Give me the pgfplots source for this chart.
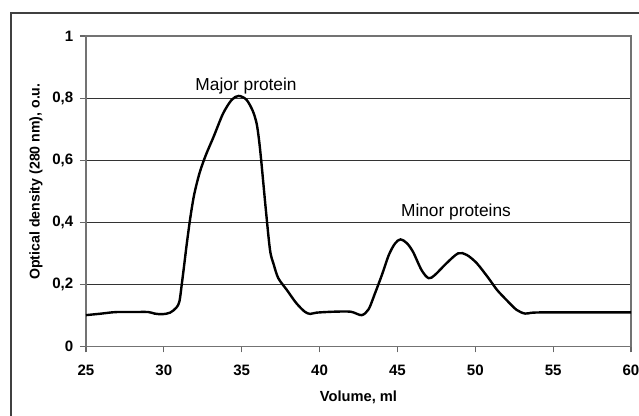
\documentclass[border=0pt]{standalone}
\usepackage{fontspec}
\setmainfont{Liberation Sans}
\usepackage{pgfplots}
\pgfplotsset{compat=1.18}
\begin{document}
\begin{tikzpicture}
\useasboundingbox (0,0) rectangle (479.25pt,312pt);
\draw[line width=1.1pt, black!75] (8.25pt,-2pt) -- (8.25pt,302.25pt) -- (482pt,302.25pt);
\begin{axis}[
    at={(64.5pt,52.125pt)}, anchor=south west,
    scale only axis,
    width=408.75pt, height=232.875pt,
    xmin=25, xmax=60, ymin=0, ymax=1,
    xtick={25,30,35,40,45,50,55,60},
    ytick={0,0.2,0.4,0.6,0.8,1},
    ymajorgrids,
    grid style={black!80, line width=0.6pt},
    axis line style={black!55, line width=0.8pt},
    tick align=outside,
    major tick length=4.5pt,
    tick style={black!60, line width=0.8pt},
    xtick pos=bottom, ytick pos=left,
    tick label style={font=\bfseries\fontsize{11.3}{13}\selectfont},
    xticklabel style={text height=8.2pt, text depth=0pt, yshift=-5.5pt},
    yticklabel style={xshift=-1.5pt},
    /pgf/number format/use comma,
    /pgf/number format/assume math mode=true,
    xlabel={Volume, ml},
    ylabel={Optical density (280 nm), o.u.},
    xlabel style={font=\bfseries\fontsize{11}{13}\selectfont, at={(axis description cs:0.5,-0.177)}, anchor=base},
    ylabel style={font=\bfseries\fontsize{10.6}{12}\selectfont, at={(axis description cs:-0.0853,0.531)}, anchor=base},
]
\addplot[black, line width=1.8pt, smooth] coordinates {
(25,0.101) (26,0.106) (26.5,0.109) (27,0.111) (28,0.111) (29,0.111)
(29.4,0.106) (29.9,0.104) (30.4,0.109) (30.8,0.125) (31.0,0.145)
(31.15,0.2) (31.3,0.26) (31.47,0.33) (31.7,0.415) (31.95,0.49)
(32.3,0.56) (32.7,0.617) (33.2,0.676) (33.8,0.75) (34.35,0.794)
(34.8,0.807) (35.3,0.795) (35.7,0.76) (35.95,0.72) (36.1,0.67)
(36.25,0.6) (36.55,0.44) (36.82,0.31) (37.05,0.265) (37.35,0.22)
(37.9,0.182) (38.5,0.14) (39.05,0.112) (39.4,0.105) (39.8,0.109)
(40.9,0.112) (42.0,0.112) (42.7,0.101) (43.15,0.12) (43.55,0.17)
(44.0,0.23) (44.45,0.295) (44.85,0.332) (45.2,0.345) (45.6,0.333)
(46.0,0.305) (46.55,0.246) (47.0,0.22) (47.4,0.23) (48.15,0.268)
(48.9,0.3) (49.45,0.295) (50.1,0.268) (50.85,0.22) (51.4,0.182)
(52.0,0.15) (52.65,0.118) (53.2,0.106) (53.7,0.109) (55,0.11) (60,0.11)
};
\node[font=\fontsize{13}{15}\selectfont, anchor=base] at (axis cs:35.28,0.826) {Major protein};
\node[font=\fontsize{13}{15}\selectfont, anchor=base] at (axis cs:48.76,0.42) {Minor proteins};
\end{axis}
\end{tikzpicture}
\end{document}
